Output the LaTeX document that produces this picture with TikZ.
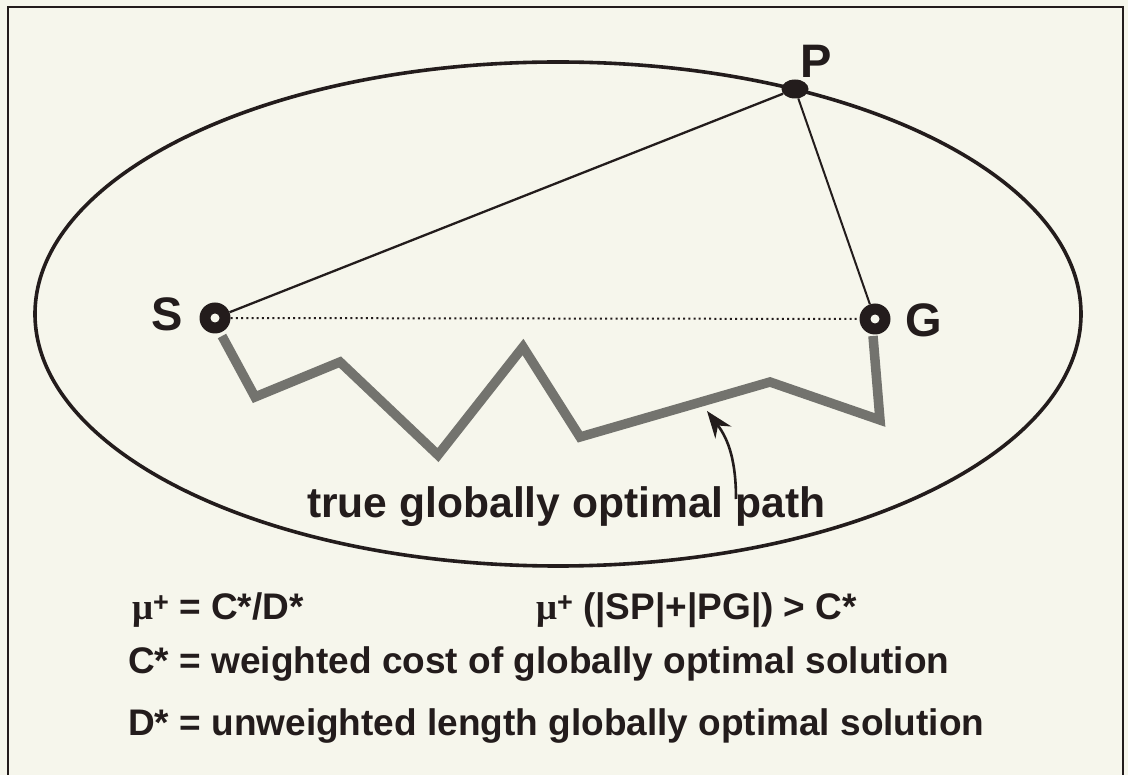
\documentclass[tikz,border=0pt]{standalone}
\usepackage{fontspec}
\setmainfont{Liberation Sans}
\newfontfamily\mufont{Liberation Serif}
\usetikzlibrary{arrows.meta,shapes.geometric}
\definecolor{paper}{RGB}{246,246,236}
\definecolor{ink}{RGB}{35,28,28}
\definecolor{halftone}{RGB}{115,115,110}
\newcommand{\mup}{{\mufont μ}\raisebox{8pt}{\fontsize{27}{27}\selectfont\bfseries +}}
\tikzset{
  holedot/.style={circle, fill=ink, minimum size=31pt, inner sep=0pt},
  pdot/.style={ellipse, fill=ink, minimum width=27pt, minimum height=19pt, inner sep=0pt},
  ptlabel/.style={text=ink, inner sep=0pt, font=\fontsize{47}{47}\selectfont\bfseries},
  eqtext/.style={text=ink, anchor=base west, inner sep=0pt, font=\fontsize{37}{40}\selectfont\bfseries},
  captext/.style={text=ink, anchor=base west, inner sep=0pt, font=\fontsize{42.6}{44}\selectfont\bfseries},
  thinline/.style={draw=ink, line width=2pt},
}
\begin{document}
\begin{tikzpicture}[x=1pt,y=-1pt]
\fill[paper] (0,0) rectangle (1128,775);
\useasboundingbox (0,0) rectangle (1128,775);
% frame
\draw[ink, line width=2.2pt] (8,776) -- (8,7) -- (1123,7) -- (1123,776);
% ellipse
\draw[ink, line width=3.6pt] (558,314) ellipse [x radius=523, y radius=252];
% zigzag path
\draw[halftone, line width=9.5pt, line join=miter, miter limit=6]
  (222,336) -- (255,397) -- (340,362) -- (438,455) -- (523,347) -- (580,437)
  -- (770,382) -- (880,420) -- (873,336);
% points
\node[holedot] (S) at (215,318) {};
\node[holedot] (G) at (875,319) {};
\node[pdot] (P) at (795,89) {};
\fill[paper] (S.center) circle (4.5pt);
\fill[paper] (G.center) circle (4.5pt);
% connectors
\draw[thinline, line width=2.3pt] (S) -- (P);
\draw[thinline] (P) -- (G);
\draw[ink, line width=2pt, dash pattern=on 2pt off 3.2pt] (S) -- (G);
% labels
\node[ptlabel] (Slab) at (167,314) {S};
\node[ptlabel] (Glab) at (924,320) {G};
\node[ptlabel] (Plab) at (816,61) {P};
% caption and arrow
\node[captext] (cap) at (307,518) {true globally optimal path};
\coordinate (tail) at (736,499);
\coordinate (tip) at (707,411);
\draw[ink, line width=2.6pt, -{Stealth[length=27pt,width=20pt]}]
  (tail) .. controls (736,462) and (729,440) .. (tip);
% equations
\node[eqtext] (eq1) at (132,619) {\mup{} = C*/D*};
\node[eqtext] (eq2) at (536,619) {\mup{} (|SP|+|PG|) > C*};
\node[eqtext] (eq3) at (128,673) {C* = weighted cost of globally optimal solution};
\node[eqtext] (eq4) at (128,735) {D* = unweighted length globally optimal solution};
\end{tikzpicture}
\end{document}
